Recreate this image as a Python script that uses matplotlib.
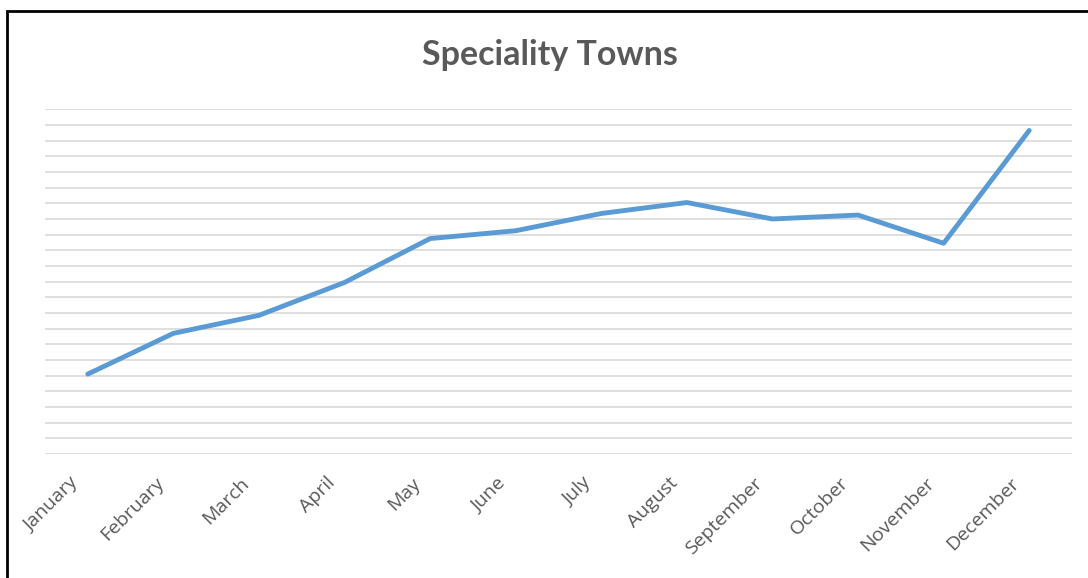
import matplotlib
matplotlib.use("Agg")
import matplotlib.pyplot as plt
from matplotlib.patches import Rectangle
from matplotlib.transforms import ScaledTranslation

months = ["January", "February", "March", "April", "May", "June", "July",
          "August", "September", "October", "November", "December"]
values = [5.1, 7.7, 8.85, 10.95, 13.75, 14.25, 15.35, 16.05, 15.0, 15.25, 13.45, 20.65]
title = "Speciality Towns"

W, H = 1088, 578
fig = plt.figure(figsize=(W / 100, H / 100), dpi=100)
fig.patch.set_facecolor("white")

left, right = 45 / W, 1072 / W
bottom, top = (H - 454) / H, (H - 109.3) / H
ax = fig.add_axes([left, bottom, right - left, top - bottom])

x = list(range(len(months)))
ax.plot(x, values, color="#5B9BD5", lw=3.5, solid_capstyle="round",
        solid_joinstyle="round", zorder=3)

ax.set_xlim(-0.5, len(months) - 0.5)
ax.set_ylim(0, 22)
ax.set_yticks(range(0, 23))
ax.yaxis.grid(True, color="#D9D9D9", lw=1.2)
ax.set_axisbelow(True)
ax.tick_params(axis="y", left=False, labelleft=False)
ax.set_xticks(x)
ax.tick_params(axis="x", length=0, labelbottom=False)
for s in ax.spines.values():
    s.set_visible(False)

off = ScaledTranslation(-6 / 100, -20 / 100, fig.dpi_scale_trans)
for xi, m in zip(x, months):
    ax.text(xi, 0, m, transform=ax.get_xaxis_transform() + off,
            rotation=45, ha="right", va="top", fontsize=14,
            color="#595959", family="Open Sans")

fig.text(550 / W, 1 - 55 / H, title, ha="center", va="center",
         fontsize=24.5, fontweight="bold", color="#595959", family="Lato")

# outer frame (left and top edges visible)
fig.add_artist(Rectangle((6.5 / W, -0.1), 1.2, 1 - 11 / H + 0.1,
                         transform=fig.transFigure, fill=False,
                         edgecolor="black", lw=2))

fig.savefig("out.png", dpi=100)
